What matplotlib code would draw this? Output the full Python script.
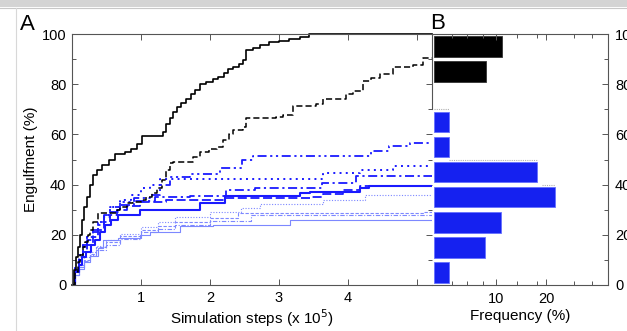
import matplotlib
matplotlib.use("Agg")
import matplotlib.pyplot as plt
from matplotlib.patches import Rectangle
from matplotlib.lines import Line2D
import numpy as np

plt.rcParams['font.family'] = ['Liberation Sans', 'DejaVu Sans']

# ---------------- data ----------------
# Panel A: step curves (x in 1e5 simulation steps, y engulfment %)
black_solid_x = [0, 0.03, 0.06, 0.09, 0.12, 0.15, 0.18, 0.22, 0.26, 0.30, 0.36, 0.44, 0.53, 0.62, 0.77, 0.86, 0.94, 1.01, 1.32, 1.36, 1.42, 1.47, 1.52, 1.58, 1.66, 1.72, 1.79, 1.86, 1.95, 2.04, 2.12, 2.20, 2.26, 2.34, 2.42, 2.48, 2.53, 2.62, 2.72, 2.85, 3.0, 3.15, 3.30, 3.44, 5.22]
black_solid_y = [0, 6, 11, 15, 20, 26, 31, 35, 40, 44, 46, 48, 50, 52, 53, 54, 56, 59.2, 61, 64, 66.5, 69, 70.8, 72.5, 74, 76, 77.5, 80, 81, 82, 83, 84.3, 86, 87, 88, 89.6, 93.6, 94.5, 95.6, 96.8, 97.4, 98, 98.8, 100, 100]
black_dash_x = [0, 0.04, 0.08, 0.12, 0.16, 0.19, 0.23, 0.26, 0.30, 0.38, 0.65, 0.70, 0.80, 0.89, 1.0, 1.08, 1.16, 1.23, 1.30, 1.37, 1.42, 1.47, 1.76, 1.86, 1.98, 2.10, 2.19, 2.27, 2.34, 2.48, 2.53, 2.96, 3.06, 3.20, 3.54, 3.64, 3.98, 4.08, 4.22, 4.34, 4.46, 4.65, 4.94, 5.09, 5.22]
black_dash_y = [0, 5, 9, 12, 15, 17, 20, 22, 25, 28.6, 29.9, 31, 32.5, 33, 34, 35.2, 36.8, 38.5, 42, 45.8, 48.5, 49.1, 51, 53.1, 54, 55.1, 57.8, 60, 61.8, 63.1, 66.4, 67, 67.8, 71.3, 72, 74, 76, 77.3, 81.3, 82.5, 84, 86.7, 87.6, 90.3, 90.3]

blue_solid_x = [0, 0.05, 0.1, 0.15, 0.2, 0.27, 0.34, 0.4, 0.48, 0.56, 0.67, 0.99, 1.855, 2.22, 3.30, 3.45, 4.17, 4.30, 5.22]
blue_solid_y = [0, 5, 8, 11, 13, 16, 18, 21, 24, 26, 27.9, 29.9, 32.5, 35.6, 36.8, 37.2, 38.8, 39.6, 39.6]
blue_dash_x = [0, 0.05, 0.1, 0.16, 0.22, 0.3, 0.38, 0.46, 0.55, 0.65, 0.8, 0.99, 1.37, 1.71, 2.22, 3.45, 3.64, 3.93, 4.17, 5.22]
blue_dash_y = [0, 6, 10, 13, 16, 19, 22, 25, 28, 30, 31.5, 33.2, 33.9, 33.9, 34.5, 35.2, 36.1, 37.8, 39.4, 39.6]
blue_dashdot_x = [0, 0.05, 0.1, 0.16, 0.22, 0.3, 0.38, 0.46, 0.55, 0.7, 0.9, 1.2, 1.71, 2.24, 2.65, 3.62, 4.12, 5.22]
blue_dashdot_y = [0, 6, 11, 15, 18, 21, 24, 27, 29, 32, 33.5, 35, 35.6, 38.0, 38.5, 40.5, 43.5, 43.5]
blue_dot_x = [0, 0.05, 0.1, 0.16, 0.22, 0.3, 0.38, 0.46, 0.55, 0.7, 0.85, 1.0, 1.13, 1.28, 1.71, 3.64, 4.17, 4.65, 5.22]
blue_dot_y = [0, 7, 12, 16, 19, 22, 25, 28, 31, 34, 36, 38.5, 40, 42.2, 42.2, 44.5, 45.8, 47.5, 47.5]
blue_dashdotdot_x = [0, 0.05, 0.1, 0.16, 0.22, 0.3, 0.38, 0.46, 0.55, 0.7, 0.9, 1.13, 1.28, 1.42, 1.71, 2.15, 2.46, 2.62, 4.34, 4.60, 4.90, 5.22]
blue_dashdotdot_y = [0, 7, 12, 16, 19, 22, 25, 28, 31, 33, 34.5, 36, 39.8, 43.2, 44.2, 46.5, 49.8, 51.2, 53.5, 55.4, 56.6, 56.6]

light_dot_x = [0, 0.05, 0.1, 0.18, 0.26, 0.35, 0.5, 0.7, 1.0, 1.25, 1.5, 2.0, 2.45, 2.72, 3.64, 4.25, 5.22]
light_dot_y = [0, 5, 8, 11, 13, 15.5, 18, 20.5, 23, 25, 27, 29, 30.5, 32.1, 33.9, 35.9, 35.9]
light_dash_x = [0, 0.05, 0.1, 0.18, 0.26, 0.35, 0.5, 0.7, 1.0, 1.25, 1.5, 2.0, 2.41, 5.10, 5.22]
light_dash_y = [0, 4, 7, 10, 12.5, 15, 17, 19.5, 22, 23.5, 25, 26.5, 28.6, 29.2, 29.2]
light_dashdot_x = [0, 0.05, 0.1, 0.18, 0.26, 0.35, 0.5, 0.7, 1.0, 1.25, 1.5, 2.0, 2.6, 5.22]
light_dashdot_y = [0, 4, 7, 9.5, 12, 14, 16, 18.5, 21, 22.5, 24, 25.5, 28.0, 28.0]
light_solid_x = [0, 0.05, 0.1, 0.18, 0.26, 0.38, 0.45, 0.67, 0.99, 1.13, 1.57, 2.04, 3.16, 5.22]
light_solid_y = [0, 4, 6.5, 9, 11.5, 14.6, 17.9, 18.6, 19.9, 21.2, 23.5, 24.0, 25.9, 25.9]

# Panel B: histogram (bin centres in %, frequency in %)
bin_centres = [95, 85, 65, 55, 45, 35, 25, 15, 5]
frequencies = [11.2, 8.0, 0.6, 0.6, 18.2, 21.8, 11.0, 7.8, 0.6]
bin_groups = ['black', 'black', 'blue', 'blue', 'blue', 'blue', 'blue', 'blue', 'blue']

# ---------------- figure ----------------
W, H = 627, 331
fig = plt.figure(figsize=(W / 100, H / 100), dpi=100)

# screenshot frame
fig.patches.append(Rectangle((0, 1 - 7 / H), 1, 7 / H, transform=fig.transFigure,
                             facecolor='#d4d4d4', edgecolor='none', zorder=0))
fig.lines.append(Line2D([0, 1], [1 - 7.5 / H] * 2, transform=fig.transFigure, color='#c8c8c8', lw=0.8))
fig.lines.append(Line2D([16 / W] * 2, [0, 1 - 7.5 / H], transform=fig.transFigure, color='#d8d8d8', lw=0.8))

BLUE = '#1a1aff'
LIGHT = '#7d88ff'
SPINE = '#555555'
FS = 10.5

axA = fig.add_axes([72 / W, 1 - 285 / H, (432 - 72) / W, (285 - 34) / H])
axB = fig.add_axes([432 / W, 1 - 285 / H, (608 - 432) / W, (285 - 34) / H])

def st(ax, x, y, **kw):
    ax.plot(x, y, drawstyle='steps-post', **kw)

st(axA, light_solid_x, light_solid_y, color=LIGHT, lw=0.8)
st(axA, light_dashdot_x, light_dashdot_y, color=LIGHT, lw=0.8, dashes=(4, 1.5, 1, 1.5))
st(axA, light_dash_x, light_dash_y, color=LIGHT, lw=0.8, dashes=(3, 1.5))
st(axA, light_dot_x, light_dot_y, color=LIGHT, lw=0.8, dashes=(1, 1.5))
st(axA, blue_dash_x, blue_dash_y, color=BLUE, lw=1.3, dashes=(5, 2))
st(axA, blue_solid_x, blue_solid_y, color=BLUE, lw=1.5)
st(axA, blue_dashdot_x, blue_dashdot_y, color=BLUE, lw=1.3, dashes=(5, 2, 1.2, 2))
st(axA, blue_dot_x, blue_dot_y, color=BLUE, lw=1.4, dashes=(1, 2.2))
st(axA, blue_dashdotdot_x, blue_dashdotdot_y, color=BLUE, lw=1.3, dashes=(5, 2, 1.2, 2, 1.2, 2))
st(axA, black_dash_x, black_dash_y, color='black', lw=1.1, dashes=(4, 2))
st(axA, black_solid_x, black_solid_y, color='black', lw=1.2, clip_on=False)

axA.set_xlim(0, 5.22)
axA.set_ylim(0, 100)
axA.set_xticks([1, 2, 3, 4, 5])
axA.set_xticklabels(['1', '2', '3', '4', ''])
axA.set_yticks([0, 20, 40, 60, 80, 100])
axA.set_yticks([10, 30, 50, 70, 90], minor=True)
axA.tick_params(direction='in', length=4, width=0.7, color=SPINE, labelsize=FS,
                top=True, right=True, pad=4)
axA.tick_params(which='minor', direction='in', length=3, width=0.7, color=SPINE,
                right=True, left=True)
for s in axA.spines.values():
    s.set_color(SPINE)
    s.set_linewidth(0.8)
axA.spines['right'].set_bounds(70, 100)
axA.set_xlabel('Simulation steps (x 10$^5$)', fontsize=11, labelpad=2)
axA.set_ylabel('Engulfment (%)', fontsize=11, labelpad=3)

# Panel B
axB.patch.set_alpha(0)
for c, f, g in zip(bin_centres, frequencies, bin_groups):
    col = 'black' if g == 'black' else '#1521f0'
    ec = '#333333' if g == 'black' else '#6670ff'
    axB.barh(c, f + 2.4, left=-2.4, height=8.2, color=col, edgecolor=ec, linewidth=0.6)
# faint dotted outlines at bin tops
gray = dict(color='#b0b0b0', lw=0.8, ls=(0, (1, 1)))
axB.plot([-2.8, 11.2], [100, 100], **gray)
axB.plot([-2.4, 0.6], [70, 70], **gray)
axB.plot([0.6, 18.2], [50, 50], **gray)
axB.plot([19.1, 21.8], [40, 40], **gray)

axB.set_xlim(-2.8, 32.4)
axB.set_ylim(0, 100)
axB.set_xticks([10, 20])
axB.set_xticks([1.1, 4.1, 7.3, 14.1, 18.1, 25.5, 29.1], minor=True)
axB.set_yticks([0, 20, 40, 60, 80, 100])
axB.set_yticks([10, 30, 50, 70, 90], minor=True)
axB.yaxis.tick_right()
axB.tick_params(direction='in', length=4, width=0.7, color=SPINE, labelsize=FS,
                top=True, left=False, right=True, pad=5)
axB.tick_params(which='minor', direction='in', length=3, width=0.7, color=SPINE,
                top=True, left=False, right=True)
for s in axB.spines.values():
    s.set_color(SPINE)
    s.set_linewidth(0.8)
axB.spines['left'].set_visible(False)
axB.set_xlabel('Frequency (%)', fontsize=11, labelpad=2)

fig.text(20 / W, 1 - 30 / H, 'A', fontsize=16, ha='left', va='baseline')
fig.text(430 / W, 1 - 29 / H, 'B', fontsize=16, ha='left', va='baseline')

fig.savefig('out.png', dpi=100)
